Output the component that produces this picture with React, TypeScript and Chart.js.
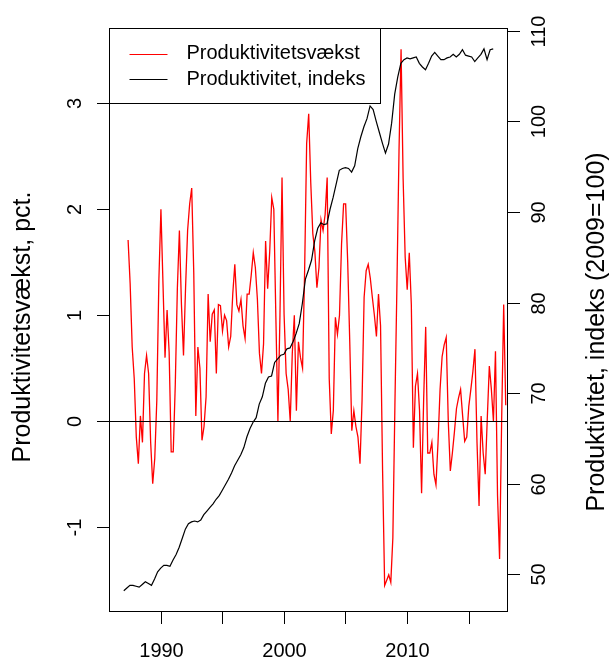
import React, { useEffect, useRef } from 'react';
import { Chart, registerables } from 'chart.js';

Chart.register(...registerables);

// ---- data ----
const growthStart = 1987.35; // first observation (decimal year)
const growthStep = 1 / 6;
const growthValues = [
  1.71, 1.30, 0.70, 0.40, -0.15, -0.40, 0.05, -0.20, 0.45, 0.62,
  0.45, -0.20, -0.59, -0.35, 0.20, 1.33, 2.00, 1.30, 0.60, 1.05,
  0.65, -0.29, -0.29, 0.35, 1.25, 1.80, 1.10, 0.62, 1.26, 1.80,
  2.05, 2.20, 1.40, 0.05, 0.70, 0.50, -0.18, -0.05, 0.23, 1.20,
  0.75, 1.01, 1.05, 0.45, 1.10, 1.09, 0.85, 1.00, 0.95, 0.70,
  0.80, 1.20, 1.48, 1.10, 1.04, 1.15, 0.90, 0.78,
  1.20, 1.20, 1.38, 1.59, 1.45, 1.15, 0.64, 0.45, 0.73, 1.70,
  1.25, 1.60, 2.11, 2.00, 0.98, 0.00, 1.00, 2.30, 1.01, 0.45,
  0.30, 0.00, 0.64, 1.00, 0.10, 0.75, 0.60, 0.50, 1.40, 2.62,
  2.90, 2.25, 1.77, 1.60, 1.26, 1.45, 1.90, 1.80, 1.95, 2.30,
  0.40, -0.12, 0.10, 0.98, 0.82, 1.00, 1.67, 2.05, 2.05, 1.50,
  0.75, -0.09, 0.10, -0.05, -0.15, -0.40, 0.20, 1.17, 1.42, 1.48,
  1.35, 1.17, 1.00,
  0.80, 1.20, 0.90, -0.47, -1.55, -1.50, -1.45, -1.52, -1.10, 0.15,
  1.30, 2.55, 3.51, 2.29, 1.55, 1.24, 1.59, 1.10, -0.25, 0.33,
  0.45, 0.10, -0.68, 0.20, 0.89, -0.30, -0.30, -0.20, -0.50, -0.60,
  -0.20, 0.30, 0.61, 0.72, 0.79, 0.00, -0.47, -0.30, -0.10, 0.12,
  0.22, 0.30, 0.05, -0.19, -0.15, 0.14, 0.30, 0.47, 0.68, -0.20,
  -0.80, 0.05, -0.30, -0.50, 0.02, 0.52, 0.30, 0.00, 0.66, -0.70,
  -1.30, 0.00, 1.10, 0.15,
];

const indexStart = 1987.0; // quarterly
const indexStep = 0.25;
const indexValues = [
  48.2, 48.5, 48.8, 48.8, 48.7, 48.6, 48.9, 49.2, 49.0, 48.8,
  49.5, 50.3, 50.7, 51.0, 51.0, 50.9, 51.6, 52.2, 53.0, 54.0,
  55.0, 55.6, 55.8, 55.9, 55.8, 56.0, 56.6, 57.0, 57.4, 57.8,
  58.3, 58.7, 59.3, 59.9, 60.5, 61.2, 62.0, 62.6, 63.2, 64.0,
  65.2, 66.1, 66.8, 67.3, 68.8, 69.6, 71.1, 71.8, 71.9, 73.4,
  73.8, 74.2, 74.3, 74.9, 75.0, 75.7, 76.6, 77.7, 79.9, 82.6,
  83.6, 84.7, 86.8, 88.2, 88.8, 88.6, 88.7, 90.3, 91.6, 93.1,
  94.6, 94.8, 94.9, 94.8, 94.4, 95.1, 97.0, 98.3, 99.4, 100.3,
  101.7, 101.3, 100.0, 98.8, 97.6, 96.5, 97.5, 99.8, 103.0, 104.9,
  106.4, 106.8, 107.0, 106.9, 107.0, 107.1, 106.4, 106.0, 105.7, 106.4,
  107.2, 107.6, 107.2, 106.8, 106.8, 107.0, 107.1, 107.4, 107.1, 107.4,
  107.9, 107.3, 107.2, 107.1, 106.6, 107.0, 107.4, 108.0, 106.8, 107.9,
  108.0,
];

const xTicks = [1990, 1995, 2000, 2005, 2010, 2015];
const xTickLabels = ['1990', '', '2000', '', '2010', ''];
const leftTicks = [-1, 0, 1, 2, 3];
const rightTicks = [50, 60, 70, 80, 90, 100, 110];
const seriesLabels = ['Produktivitetsvækst', 'Produktivitet, indeks'];
const seriesColors = ['#ff0000', '#000000'];
const leftTitle = 'Produktivitetsvækst, pct.';
const rightTitle = 'Produktivitet, indeks (2009=100)';

const FONT = '20px "Liberation Sans", Arial, sans-serif';
const TITLE_FONT = '25px "Liberation Sans", Arial, sans-serif';

const growthPoints = growthValues.map((v, i) => ({ x: growthStart + i * growthStep, y: v }));
const indexPoints = indexValues.map((v, i) => ({ x: indexStart + i * indexStep, y: v }));

const rStylePlugin = {
  id: 'rStyle',
  afterDatasetsDraw(chart: any) {
    const { ctx, chartArea: ca, scales } = chart;
    const sx = scales.x, sy = scales.y, sy2 = scales.y2;
    ctx.save();
    ctx.strokeStyle = '#000';
    ctx.lineWidth = 1;
    // zero line
    const y0 = Math.round(sy.getPixelForValue(0)) + 0.5;
    ctx.beginPath();
    ctx.moveTo(ca.left, y0);
    ctx.lineTo(ca.right, y0);
    ctx.stroke();
    // box
    ctx.strokeRect(Math.round(ca.left) + 0.5, Math.round(ca.top) + 0.5,
      Math.round(ca.right - ca.left) - 1, Math.round(ca.bottom - ca.top) - 1);
    const TL = 12;
    ctx.fillStyle = '#000';
    ctx.font = FONT;
    // x ticks
    xTicks.forEach((v, i) => {
      const px = Math.round(sx.getPixelForValue(v)) + 0.5;
      ctx.beginPath();
      ctx.moveTo(px, ca.bottom);
      ctx.lineTo(px, ca.bottom + TL);
      ctx.stroke();
      if (xTickLabels[i]) {
        ctx.textAlign = 'center';
        ctx.textBaseline = 'middle';
        ctx.fillText(xTickLabels[i], px, ca.bottom + 39);
      }
    });
    // left ticks
    leftTicks.forEach((v) => {
      const py = Math.round(sy.getPixelForValue(v)) + 0.5;
      ctx.beginPath();
      ctx.moveTo(ca.left - TL, py);
      ctx.lineTo(ca.left, py);
      ctx.stroke();
      ctx.save();
      ctx.translate(ca.left - 34, py);
      ctx.rotate(-Math.PI / 2);
      ctx.textAlign = 'center';
      ctx.textBaseline = 'middle';
      ctx.fillText(String(v), 0, 0);
      ctx.restore();
    });
    // right ticks
    rightTicks.forEach((v) => {
      const py = Math.round(sy2.getPixelForValue(v)) + 0.5;
      ctx.beginPath();
      ctx.moveTo(ca.right, py);
      ctx.lineTo(ca.right + TL, py);
      ctx.stroke();
      ctx.save();
      ctx.translate(ca.right + 31, py);
      ctx.rotate(-Math.PI / 2);
      ctx.textAlign = 'center';
      ctx.textBaseline = 'middle';
      ctx.fillText(String(v), 0, 0);
      ctx.restore();
    });
    // axis titles
    ctx.font = TITLE_FONT;
    const midY = (ca.top + ca.bottom) / 2;
    ctx.save();
    ctx.translate(23, midY + 7);
    ctx.rotate(-Math.PI / 2);
    ctx.textAlign = 'center';
    ctx.textBaseline = 'middle';
    ctx.fillText(leftTitle, 0, 0);
    ctx.restore();
    ctx.save();
    ctx.translate(597, midY + 12);
    ctx.rotate(-Math.PI / 2);
    ctx.textAlign = 'center';
    ctx.textBaseline = 'middle';
    ctx.fillText(rightTitle, 0, 0);
    ctx.restore();
    // legend
    ctx.font = FONT;
    const lx = Math.round(ca.left) + 0.5, ly = Math.round(ca.top) + 0.5;
    ctx.fillStyle = '#fff';
    ctx.fillRect(lx, ly, 271, 75);
    ctx.strokeStyle = '#000';
    ctx.strokeRect(lx, ly, 271, 75);
    seriesLabels.forEach((lab, i) => {
      const yy = ly + 25 + i * 25.5;
      ctx.strokeStyle = seriesColors[i];
      ctx.beginPath();
      ctx.moveTo(lx + 20, Math.round(yy) + 0.5);
      ctx.lineTo(lx + 58, Math.round(yy) + 0.5);
      ctx.stroke();
      ctx.fillStyle = '#000';
      ctx.textAlign = 'left';
      ctx.textBaseline = 'middle';
      ctx.fillText(lab, lx + 77, yy);
    });
    ctx.restore();
  },
};

export default function App() {
  const ref = useRef<HTMLCanvasElement | null>(null);
  useEffect(() => {
    if (!ref.current) return;
    const chart = new Chart(ref.current, {
      type: 'line',
      data: {
        datasets: [
          {
            label: seriesLabels[1],
            data: indexPoints,
            borderColor: seriesColors[1],
            borderWidth: 1.2,
            pointRadius: 0,
            tension: 0,
            yAxisID: 'y2',
            xAxisID: 'x',
          },
          {
            label: seriesLabels[0],
            data: growthPoints,
            borderColor: seriesColors[0],
            borderWidth: 1.3,
            pointRadius: 0,
            tension: 0,
            yAxisID: 'y',
            xAxisID: 'x',
          },
        ],
      },
      options: {
        responsive: false,
        animation: false,
        devicePixelRatio: 1,
        layout: { padding: { left: 109, right: 103, top: 28, bottom: 48 } },
        plugins: { legend: { display: false }, tooltip: { enabled: false } },
        scales: {
          x: { type: 'linear', display: false, min: 1985.8, max: 2018.2 },
          y: { type: 'linear', display: false, position: 'left', min: -1.8, max: 3.71 },
          y2: { type: 'linear', display: false, position: 'right', min: 45.86, max: 110.3 },
        },
      },
      plugins: [rStylePlugin],
    });
    return () => chart.destroy();
  }, []);
  return (
    <div style={{ position: 'fixed', left: 0, top: 0, width: 611, height: 660, background: '#fff' }}>
      <canvas ref={ref} width={611} height={660} style={{ width: 611, height: 660, display: 'block' }} />
    </div>
  );
}
